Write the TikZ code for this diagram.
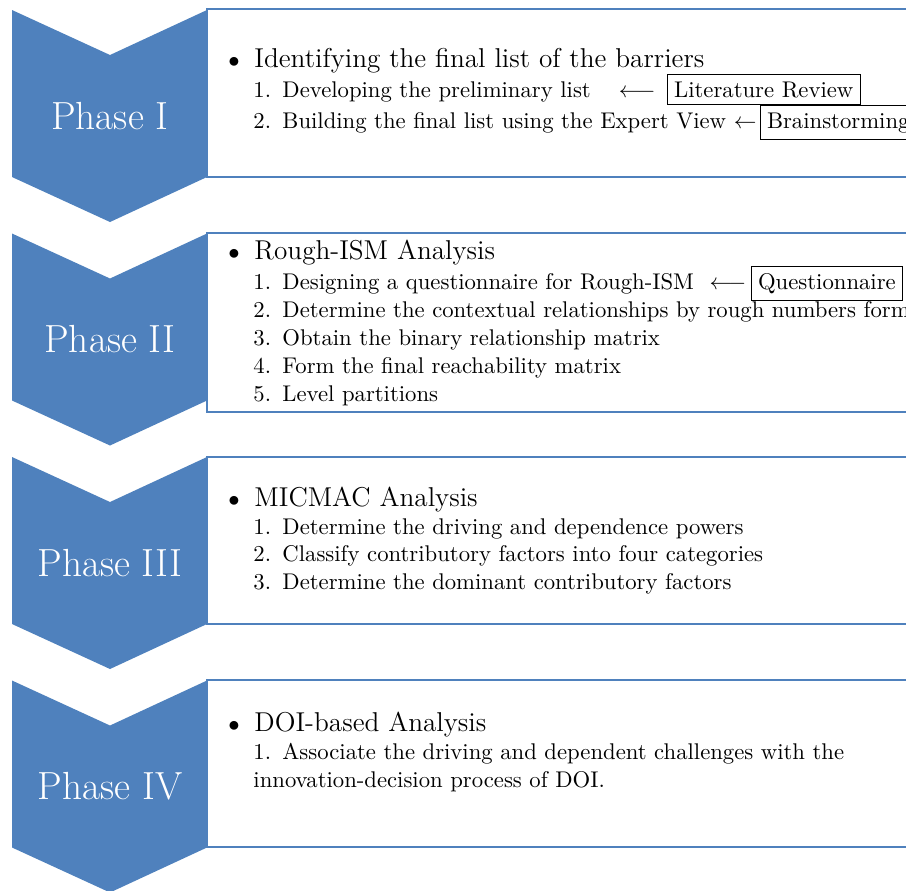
\documentclass[tikz,border=0pt]{standalone}
\usepackage{amsmath}
\usepackage{tikz}
\usetikzlibrary{positioning}
\definecolor{phaseblue}{RGB}{79,129,189}

\begin{document}
\begin{tikzpicture}[x=0.4405pt,y=-0.4405pt,
  phase/.style={text=white,font=\LARGE},
  panel/.style={draw=phaseblue,line width=0.6pt},
  head/.style={anchor=base west,inner sep=0pt,font=\large},
  txt/.style={anchor=base west,inner sep=0pt},
  refbox/.style={draw,inner sep=3pt,line width=0.4pt}]
\clip (0,0) rectangle (906,890);
\foreach \i/\1 in %
{0/I,1/II,2/III,3/IV} {
   \fill[phaseblue] (12,{10+223.5*\i}) -- (110,{55+223.5*\i}) -- (207,{10+223.5*\i})
      -- (207,{177+223.5*\i}) -- (110,{222+223.5*\i}) -- (12,{177+223.5*\i}) -- cycle;
   \node[phase] (ph\i) at (110,{116+223.5*\i}) {Phase \1};
}
\draw[panel] (207,9) rectangle (920,177);
\draw[panel] (207,233) rectangle (920,412);
\draw[panel] (207,457) rectangle (920,624);
\draw[panel] (207,680) rectangle (920,847);
% Phase I
\node[head] (hd1) at (254,67) {\llap{\normalsize$\bullet$\hspace{6.5pt}}Identifying the final list of the barriers};
\node[txt] (it11) at (253,97) {1.\hspace{0.5em}Developing the preliminary list};
\node[txt,base right=12pt of it11] (ar11) {$\longleftarrow$};
\node[refbox,base right=4.8pt of ar11] (lit) {Literature Review};
\node[txt] (it12) at (253,128) {2.\hspace{0.5em}Building the final list using the Expert View};
\node[txt,base right=3pt of it12] (ar12) {$\leftarrow$};
\node[refbox,base right=1.2pt of ar12] (brain) {Brainstorming};
% Phase II
\node[head] (hd2) at (254,259) {\llap{\normalsize$\bullet$\hspace{6.5pt}}Rough-ISM Analysis};
\node[txt] (it21) at (253,289) {1.\hspace{0.5em}Designing a questionnaire for Rough-ISM};
\node[txt,base right=6.5pt of it21] (ar21) {$\longleftarrow$};
\node[refbox,base right=1.8pt of ar21] (quest) {Questionnaire};
\node[txt] (it22) at (253,317) {2.\hspace{0.5em}Determine the contextual relationships by rough numbers form};
\node[txt] (it23) at (253,345) {3.\hspace{0.5em}Obtain the binary relationship matrix};
\node[txt] (it24) at (253,373) {4.\hspace{0.5em}Form the final reachability matrix};
\node[txt] (it25) at (253,401) {5.\hspace{0.5em}Level partitions};
% Phase III
\node[head] (hd3) at (254,506) {\llap{\normalsize$\bullet$\hspace{6.5pt}}MICMAC Analysis};
\node[txt] (it31) at (253,534) {1.\hspace{0.5em}Determine the driving and dependence powers};
\node[txt] (it32) at (253,561) {2.\hspace{0.5em}Classify contributory factors into four categories};
\node[txt] (it33) at (253,589) {3.\hspace{0.5em}Determine the dominant contributory factors};
% Phase IV
\node[head] (hd4) at (254,731) {\llap{\normalsize$\bullet$\hspace{6.5pt}}DOI-based Analysis};
\node[txt,align=left] (it41) at (253,787) {1.\hspace{0.5em}Associate the driving and dependent challenges with the\\innovation-decision process of DOI.};
\end{tikzpicture}
\end{document}
